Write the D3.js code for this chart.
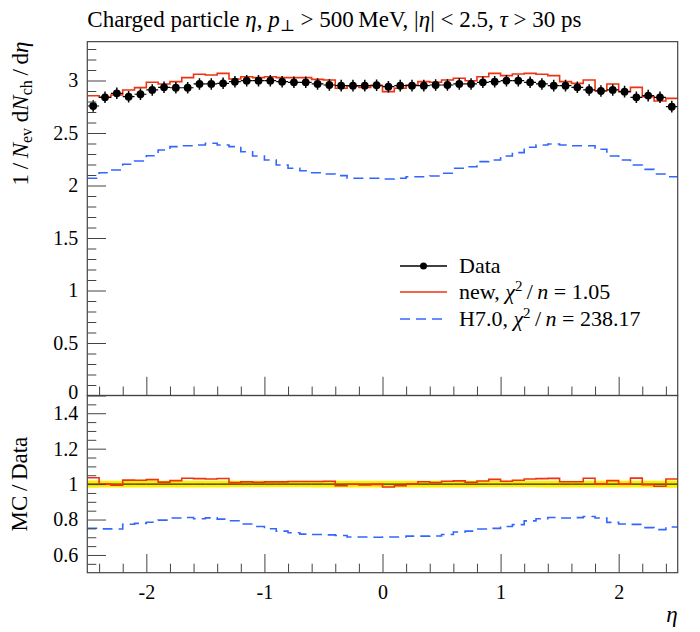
<!DOCTYPE html>
<html><head><meta charset="utf-8">
<script src="https://cdn.jsdelivr.net/npm/d3@7"></script>
<style>body{margin:0;background:#fff}svg{display:block}text{font-family:"Liberation Serif","DejaVu Serif",serif;fill:#000}</style>
</head><body><svg id="c" width="700" height="632"></svg>
<script>
// bin edges in eta
const binEdges = [-2.5,-2.4,-2.3,-2.2,-2.1,-2.0,-1.9,-1.8,-1.7,-1.6,-1.5,-1.4,-1.3,-1.2,-1.1,-1.0,-0.9,-0.8,-0.7,-0.6,-0.5,-0.4,-0.3,-0.2,-0.1,0.0,0.1,0.2,0.3,0.4,0.5,0.6,0.7,0.8,0.9,1.0,1.1,1.2,1.3,1.4,1.5,1.6,1.7,1.8,1.9,2.0,2.1,2.2,2.3,2.4,2.5];
const dataVals = [2.757,2.840,2.878,2.846,2.869,2.910,2.935,2.931,2.931,2.967,2.967,2.973,2.989,2.998,2.998,2.998,2.989,2.983,2.983,2.967,2.957,2.951,2.951,2.951,2.955,2.941,2.951,2.951,2.951,2.957,2.957,2.967,2.967,2.983,2.989,2.998,2.998,2.983,2.967,2.951,2.951,2.935,2.910,2.900,2.910,2.894,2.840,2.856,2.840,2.751];
const dataErr = [0.055,0.055,0.055,0.055,0.055,0.055,0.055,0.055,0.055,0.055,0.055,0.055,0.055,0.055,0.055,0.055,0.055,0.055,0.055,0.055,0.055,0.055,0.055,0.055,0.055,0.055,0.055,0.055,0.055,0.055,0.055,0.055,0.055,0.055,0.055,0.055,0.055,0.055,0.055,0.055,0.055,0.055,0.055,0.055,0.055,0.055,0.055,0.055,0.055,0.055];
const newVals = [2.855,2.840,2.862,2.910,2.932,2.983,2.967,2.989,3.027,3.059,3.052,3.068,3.014,3.036,3.027,3.036,3.027,3.027,3.027,3.011,3.005,2.926,2.948,2.935,2.951,2.894,2.926,2.957,2.989,2.983,3.005,3.021,2.998,3.036,3.068,3.046,3.062,3.068,3.059,3.046,2.989,2.973,3.005,2.903,2.967,2.894,2.935,2.846,2.805,2.830];
const h70Vals = [2.069,2.122,2.148,2.202,2.233,2.284,2.338,2.370,2.379,2.386,2.402,2.386,2.370,2.322,2.281,2.243,2.195,2.164,2.141,2.122,2.110,2.094,2.069,2.069,2.069,2.062,2.069,2.084,2.084,2.090,2.116,2.164,2.179,2.227,2.243,2.281,2.313,2.364,2.386,2.395,2.386,2.379,2.379,2.345,2.281,2.243,2.195,2.154,2.110,2.084];
const xMajor = [-2,-1,0,1,2];
const xMajorLabels = ["-2","-1","0","1","2"];
const xMinor = [-2.4,-2.2,-1.8,-1.6,-1.4,-1.2,-0.8,-0.6,-0.4,-0.2,0.2,0.4,0.6,0.8,1.2,1.4,1.6,1.8,2.2,2.4];
const yMainMajor = [0,0.5,1,1.5,2,2.5,3];
const yMainLabels = ["0","0.5","1","1.5","2","2.5","3"];
const yMainMinor = [0.1,0.2,0.3,0.4,0.6,0.7,0.8,0.9,1.1,1.2,1.3,1.4,1.6,1.7,1.8,1.9,2.1,2.2,2.3,2.4,2.6,2.7,2.8,2.9,3.1,3.2,3.3];
const yRatMajor = [0.6,0.8,1,1.2,1.4];
const yRatLabels = ["0.6","0.8","1","1.2","1.4"];
const yRatMinor = [0.55,0.65,0.7,0.75,0.85,0.9,0.95,1.05,1.1,1.15,1.25,1.3,1.35,1.45];

const RED="#ee3311", BLUE="#3366ff", FRAME="#444";
const svg=d3.select("#c");
const L=87.3,R=677.7,T=41.65,MB=395.5,RB=572.7;
const x=d3.scaleLinear([-2.5,2.5],[L,R]);
const y=d3.scaleLinear([0,3.37],[MB,T]);
const yr=d3.scaleLinear([0.5,1.5],[RB,MB]);
const defs=svg.append("defs");
defs.append("clipPath").attr("id","cm").append("rect").attr("x",L).attr("y",T).attr("width",R-L).attr("height",MB-T);
defs.append("clipPath").attr("id","cr").append("rect").attr("x",L).attr("y",MB).attr("width",R-L).attr("height",RB-MB);

const idx=d3.range(dataVals.length);
function stepPts(vals){const p=idx.map(i=>[binEdges[i],vals[i]]);p.push([binEdges[binEdges.length-1],vals[vals.length-1]]);return p;}
const lineMain=d3.line().x(d=>x(d[0])).y(d=>y(d[1])).curve(d3.curveStepAfter);
const lineRat=d3.line().x(d=>x(d[0])).y(d=>yr(d[1])).curve(d3.curveStepAfter);

// ---- main panel
const gm=svg.append("g").attr("clip-path","url(#cm)");
gm.append("path").attr("d",lineMain(stepPts(h70Vals))).attr("fill","none").attr("stroke",BLUE).attr("stroke-width",1.6).attr("stroke-dasharray","10,6");
gm.append("path").attr("d",lineMain(stepPts(newVals))).attr("fill","none").attr("stroke",RED).attr("stroke-width",1.6);
const pts=gm.append("g");
idx.forEach(i=>{
  const cx=x((binEdges[i]+binEdges[i+1])/2), cy=y(dataVals[i]);
  pts.append("line").attr("x1",x(binEdges[i])).attr("x2",x(binEdges[i+1])).attr("y1",cy).attr("y2",cy).attr("stroke","#000").attr("stroke-width",1.2);
  pts.append("line").attr("x1",cx).attr("x2",cx).attr("y1",y(dataVals[i]-dataErr[i])).attr("y2",y(dataVals[i]+dataErr[i])).attr("stroke","#000").attr("stroke-width",1.5);
  pts.append("circle").attr("cx",cx).attr("cy",cy).attr("r",3.9).attr("fill","#000");
});

// ---- ratio panel
const gr=svg.append("g").attr("clip-path","url(#cr)");
const bandPts=idx.map(i=>[binEdges[i],1-dataErr[i]/dataVals[i],1+dataErr[i]/dataVals[i]]);
bandPts.push([binEdges[binEdges.length-1],bandPts[bandPts.length-1][1],bandPts[bandPts.length-1][2]]);
gr.append("path").attr("d",d3.area().x(d=>x(d[0])).y0(d=>yr(d[1])).y1(d=>yr(d[2])).curve(d3.curveStepAfter)(bandPts)).attr("fill","#ffee00");
gr.append("path").attr("d",lineRat(stepPts(dataVals.map(()=>1)))).attr("fill","none").attr("stroke","#000").attr("stroke-width",1);
gr.append("path").attr("d",lineRat(stepPts(h70Vals.map((v,i)=>v/dataVals[i])))).attr("fill","none").attr("stroke",BLUE).attr("stroke-width",1.6).attr("stroke-dasharray","10,6");
gr.append("path").attr("d",lineRat(stepPts(newVals.map((v,i)=>v/dataVals[i])))).attr("fill","none").attr("stroke",RED).attr("stroke-width",1.6);

// ---- axes (ticks inside)
function styleAxis(g){g.select(".domain").remove();g.selectAll("line").attr("stroke",FRAME);g.selectAll("text").attr("font-family","Liberation Serif").attr("font-size",20).attr("fill","#000");}
const ym=svg.append("g").attr("transform",`translate(${L},0)`).call(d3.axisLeft(y).tickValues(yMainMajor).tickSize(-18.7).tickPadding(9).tickFormat((d,i)=>yMainLabels[i])).call(styleAxis);
ym.selectAll("text").filter(d=>d===0).attr("dy","0.15em");
svg.append("g").attr("transform",`translate(${L},0)`).call(d3.axisLeft(y).tickValues(yMainMinor).tickSize(-9).tickFormat("")).call(styleAxis);
svg.append("g").attr("transform",`translate(${L},0)`).call(d3.axisLeft(yr).tickValues(yRatMajor).tickSize(-18.7).tickPadding(9).tickFormat((d,i)=>yRatLabels[i])).call(styleAxis);
svg.append("g").attr("transform",`translate(${L},0)`).call(d3.axisLeft(yr).tickValues(yRatMinor).tickSize(-9).tickFormat("")).call(styleAxis);
svg.append("g").attr("transform",`translate(0,${MB})`).call(d3.axisBottom(x).tickValues(xMajor).tickSize(-18.7).tickFormat("")).call(styleAxis);
svg.append("g").attr("transform",`translate(0,${MB})`).call(d3.axisBottom(x).tickValues(xMinor).tickSize(-9).tickFormat("")).call(styleAxis);
svg.append("g").attr("transform",`translate(0,${RB})`).call(d3.axisBottom(x).tickValues(xMajor).tickSize(-18.7).tickPadding(12).tickFormat((d,i)=>xMajorLabels[i])).call(styleAxis);
svg.append("g").attr("transform",`translate(0,${RB})`).call(d3.axisBottom(x).tickValues(xMinor).tickSize(-9).tickFormat("")).call(styleAxis);

// frames
svg.append("rect").attr("x",L).attr("y",T).attr("width",R-L).attr("height",MB-T).attr("fill","none").attr("stroke",FRAME).attr("stroke-width",1.2);
svg.append("rect").attr("x",L).attr("y",MB).attr("width",R-L).attr("height",RB-MB).attr("fill","none").attr("stroke",FRAME).attr("stroke-width",1.2);

// ---- title
const t=svg.append("text").attr("x",L).attr("y",27).attr("font-size",23);
t.append("tspan").text("Charged particle ");
t.append("tspan").attr("font-style","italic").text("η");
t.append("tspan").text(", ");
t.append("tspan").attr("font-style","italic").text("p");
t.append("tspan").attr("font-size",16).attr("dy",4).text("⊥");
t.append("tspan").attr("dy",-4).text(" > 500\u2009MeV, |");
t.append("tspan").attr("font-style","italic").text("η");
t.append("tspan").text("| < 2.5, ");
t.append("tspan").attr("font-style","italic").text("τ");
t.append("tspan").text(" > 30 ps");

// ---- y label main
const yl=svg.append("text").attr("transform",`translate(28,${T}) rotate(-90)`).attr("text-anchor","end").attr("font-size",23);
yl.append("tspan").text("1\u2009/\u2009");
yl.append("tspan").attr("font-style","italic").text("N");
yl.append("tspan").attr("font-size",16).attr("dy",4).text("ev");
yl.append("tspan").attr("dy",-4).text(" d");
yl.append("tspan").attr("font-style","italic").text("N");
yl.append("tspan").attr("font-size",16).attr("dy",4).text("ch");
yl.append("tspan").attr("dy",-4).text("\u2009/\u2009d");
yl.append("tspan").attr("font-style","italic").text("η");

// ratio y label
svg.append("text").attr("transform",`translate(27,${yr(1)}) rotate(-90)`).attr("text-anchor","middle").attr("font-size",23).text("MC\u2009/\u2009Data");
// x label
svg.append("text").attr("x",R).attr("y",622).attr("text-anchor","end").attr("font-size",23).attr("font-style","italic").text("η");

// ---- legend
const lg=svg.append("g");
const lx0=400,lx1=447,tx=459;
const rows=[266,292,319];
lg.append("line").attr("x1",lx0).attr("x2",lx1).attr("y1",rows[0]).attr("y2",rows[0]).attr("stroke","#000").attr("stroke-width",1.5);
lg.append("circle").attr("cx",(lx0+lx1)/2).attr("cy",rows[0]).attr("r",3.5).attr("fill","#000");
lg.append("line").attr("x1",lx0).attr("x2",lx1).attr("y1",rows[1]).attr("y2",rows[1]).attr("stroke",RED).attr("stroke-width",1.6);
lg.append("line").attr("x1",lx0).attr("x2",lx1).attr("y1",rows[2]).attr("y2",rows[2]).attr("stroke",BLUE).attr("stroke-width",1.6).attr("stroke-dasharray","10,6");
lg.append("text").attr("x",tx).attr("y",rows[0]+7).attr("font-size",22).text("Data");
function chiLabel(row,prefix,val){
  const tt=lg.append("text").attr("x",tx).attr("y",row+7).attr("font-size",22);
  tt.append("tspan").text(prefix+", ");
  tt.append("tspan").attr("font-style","italic").text("χ");
  tt.append("tspan").attr("font-size",15).attr("dy",-8).text("2");
  tt.append("tspan").attr("dy",8).text("\u2009/\u2009");
  tt.append("tspan").attr("font-style","italic").text("n");
  tt.append("tspan").text(" = "+val);
}
chiLabel(rows[1],"new","1.05");
chiLabel(rows[2],"H7.0","238.17");
</script></body></html>
